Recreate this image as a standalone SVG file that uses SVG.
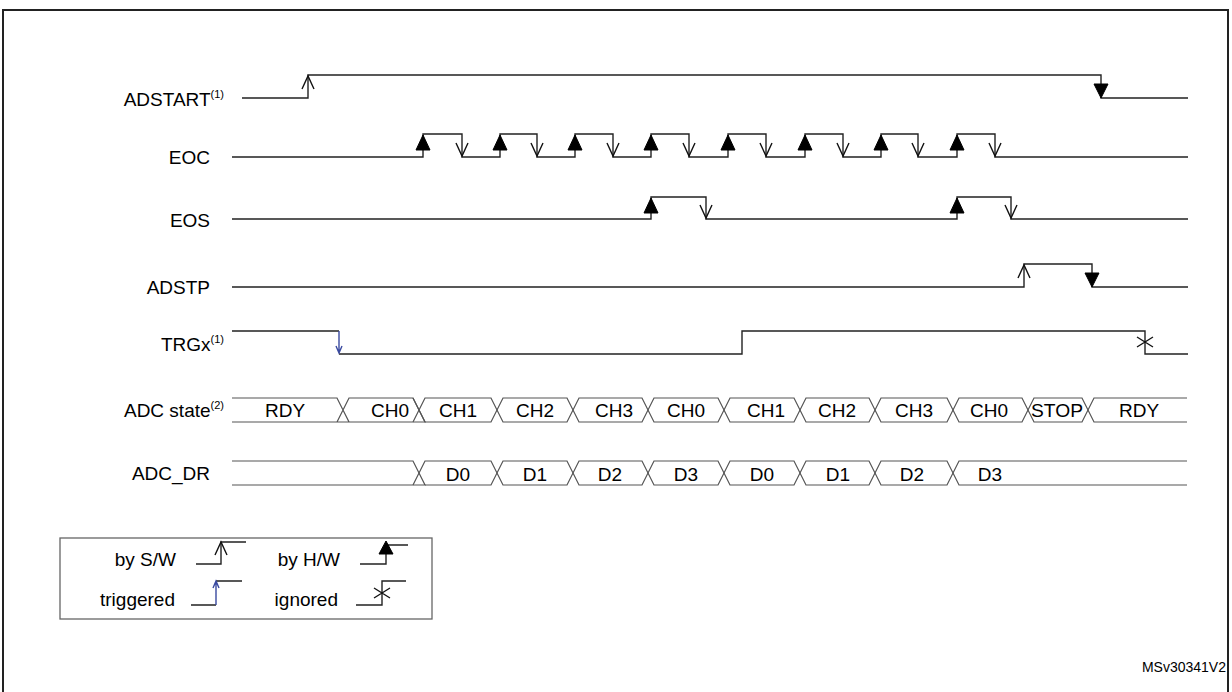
<svg xmlns="http://www.w3.org/2000/svg" width="1232" height="692" viewBox="0 0 1232 692">
<style>
.w{fill:none;stroke:#222;stroke-width:1.4}
.b{fill:none;stroke:#555;stroke-width:1.2}
.o{fill:none;stroke:#111;stroke-width:1.4}
.f{fill:#000;stroke:#000}
.l{font-family:"Liberation Sans",Arial,sans-serif;font-size:19px;fill:#000}
.r{text-anchor:end}
.c{text-anchor:middle}
.s{font-size:11px}
</style>
<rect x="0" y="0" width="1232" height="692" fill="#fff"/>
<rect x="3" y="10" width="1225" height="690" fill="none" stroke="#222" stroke-width="2"/>
<g id="labels">
<text class="l r" x="224" y="106">ADSTART<tspan class="s" dy="-8">(1)</tspan></text>
<text class="l r" x="210" y="164">EOC</text>
<text class="l r" x="210" y="227">EOS</text>
<text class="l r" x="210" y="294">ADSTP</text>
<text class="l r" x="224" y="351">TRGx<tspan class="s" dy="-8">(1)</tspan></text>
<text class="l r" x="224" y="417">ADC state<tspan class="s" dy="-8">(2)</tspan></text>
<text class="l r" x="210" y="480">ADC_DR</text>
</g>
<g id="connectors">
<path class="w" d="M242 98H308V75H1101V98H1188"/>
<path class="o" d="M302 89L308 76L314 89"/>
<path class="f" d="M1094 84H1108L1101 98Z"/>
<path class="w" d="M232 157H423V134H462V157H500V134H537V157H575V134H613V157H651V134H689V157H728V134H766V157H805V134H843V157H881V134H918V157H957V134H995V157H1188"/>
<g class="f">
<path d="M423 135L416 150H430Z"/><path d="M500 135L493 150H507Z"/><path d="M575 135L568 150H582Z"/><path d="M651 135L644 150H658Z"/>
<path d="M728 135L721 150H735Z"/><path d="M805 135L798 150H812Z"/><path d="M881 135L874 150H888Z"/><path d="M957 135L950 150H964Z"/>
</g>
<path class="o" d="M456 143L462 156L468 143M531 143L537 156L543 143M607 143L613 156L619 143M683 143L689 156L695 143M760 143L766 156L772 143M837 143L843 156L849 143M912 143L918 156L924 143M989 143L995 156L1001 143"/>
<path class="w" d="M232 219H651V197H706V219H957V197H1011V219H1188"/>
<path class="f" d="M651 198L644 213H658Z"/><path class="f" d="M957 198L950 213H964Z"/>
<path class="o" d="M700 205L706 218L712 205M1005 205L1011 218L1017 205"/>
<path class="w" d="M232 287H1024V264H1092V287H1188"/>
<path class="o" d="M1018 278L1024 265L1030 278"/>
<path class="f" d="M1085 273H1099L1092 287Z"/>
<path class="w" d="M232 331H339M339 354H742V331H1145V354H1188"/>
<path fill="none" stroke="#3a4aa0" stroke-width="1.4" d="M339 331V353M336 346L339 353L342 346"/>
<path class="o" d="M1137 337L1153 347M1137 347L1153 337"/>
<path class="b" d="M232 398H337L349 422H232M337 422L349 398H413L425 422H337"/>
<path class="b" d="M413 398L425 422H491L503 398H567L579 422H642L654 398H718L730 422H794L806 398H869L881 422H947L959 398H1022L1034 422H1082L1094 398H1187"/>
<path class="b" d="M413 422L425 398H491L503 422H567L579 398H642L654 422H718L730 398H794L806 422H869L881 398H947L959 422H1022L1034 398H1082L1094 422H1187"/>
<path class="b" d="M232 461H413L425 485H232"/>
<path class="b" d="M413 485L425 461H491L503 485H567L579 461H642L654 485H718L730 461H794L806 485H869L881 461H947L959 485H1187"/>
<path class="b" d="M425 485H491L503 461H567L579 485H642L654 461H718L730 485H794L806 461H869L881 485H947L959 461H1187"/>
</g>
<g id="busText">
<text class="l c" x="285" y="417">RDY</text>
<text class="l c" x="390" y="417">CH0</text>
<text class="l c" x="458" y="417">CH1</text>
<text class="l c" x="535" y="417">CH2</text>
<text class="l c" x="614" y="417">CH3</text>
<text class="l c" x="686" y="417">CH0</text>
<text class="l c" x="766" y="417">CH1</text>
<text class="l c" x="837" y="417">CH2</text>
<text class="l c" x="914" y="417">CH3</text>
<text class="l c" x="989" y="417">CH0</text>
<text class="l c" x="1057" y="417" textLength="52" lengthAdjust="spacingAndGlyphs">STOP</text>
<text class="l c" x="1139" y="417">RDY</text>
<text class="l c" x="458" y="481">D0</text>
<text class="l c" x="535" y="481">D1</text>
<text class="l c" x="610" y="481">D2</text>
<text class="l c" x="686" y="481">D3</text>
<text class="l c" x="762" y="481">D0</text>
<text class="l c" x="838" y="481">D1</text>
<text class="l c" x="912" y="481">D2</text>
<text class="l c" x="990" y="481">D3</text>
</g>
<g id="legend">
<rect x="60" y="538" width="372" height="81" fill="none" stroke="#666" stroke-width="1.3"/>
<text class="l r" x="176" y="566">by S/W</text>
<path class="w" d="M196 564H221V542H246"/>
<path class="o" d="M215 555L221 542L227 555"/>
<text class="l r" x="340" y="566">by H/W</text>
<path class="w" d="M360 564H386V545H408"/>
<path class="f" d="M386 541L379 554H393Z"/>
<text class="l r" x="175" y="606">triggered</text>
<path class="w" d="M191 605H216M216 581H242"/>
<path fill="none" stroke="#3a4aa0" stroke-width="1.4" d="M216 605V581M213 588L216 581L219 588"/>
<text class="l r" x="338" y="606">ignored</text>
<path class="w" d="M356 605H382V581H406"/>
<path class="o" d="M374 588L390 598M374 598L390 588"/>
</g>
<text class="l r" x="1226" y="672" style="font-size:14px">MSv30341V2</text>
</svg>
